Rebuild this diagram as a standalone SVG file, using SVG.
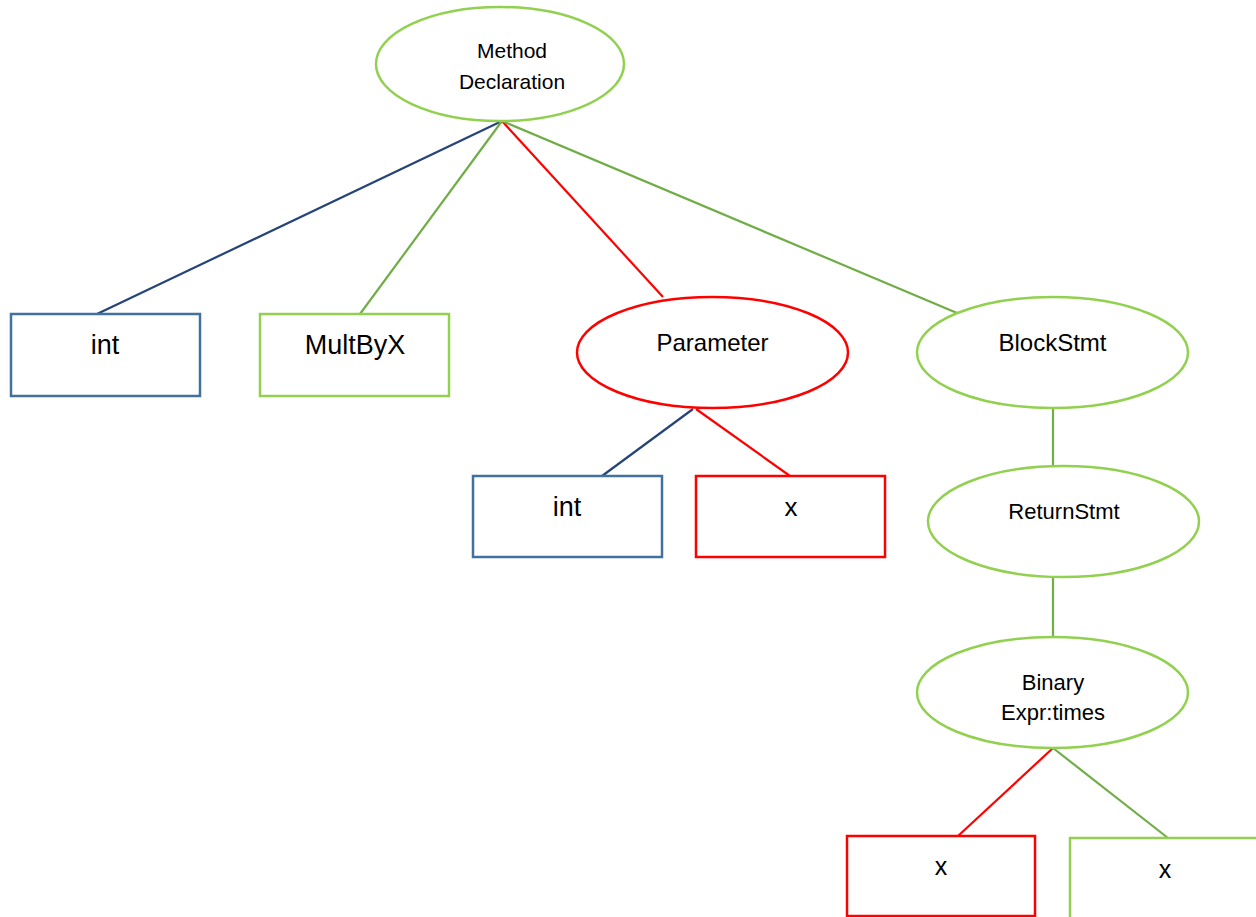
<svg xmlns="http://www.w3.org/2000/svg" width="1256" height="917" viewBox="0 0 1256 917">
<style>
  .shape { fill: #FFFFFF; stroke-width: 2.5; }
  .green { stroke: #92D050; }
  .red { stroke: #FF0000; }
  .blue { stroke: #41719C; }
  .conn { stroke-width: 2.2; fill: none; }
  .c-blue { stroke: #264478; }
  .c-green { stroke: #70AD47; }
  .c-red { stroke: #FF0000; }
  text { font-family: "Liberation Sans", Arial, sans-serif; fill: #000000; text-anchor: middle; }
</style>
<rect width="1256" height="917" fill="#FFFFFF"/>
<g id="connectors">
  <line class="conn c-blue" x1="502" y1="121" x2="97" y2="314"/>
  <line class="conn c-green" x1="502" y1="121" x2="360" y2="314"/>
  <line class="conn c-red" x1="502" y1="121" x2="663" y2="297"/>
  <line class="conn c-green" x1="502" y1="121" x2="957" y2="313"/>
  <line class="conn c-blue" x1="693" y1="409" x2="602" y2="476"/>
  <line class="conn c-red" x1="696" y1="409" x2="790" y2="476"/>
  <line class="conn c-green" x1="1053" y1="408" x2="1053" y2="466"/>
  <line class="conn c-green" x1="1053" y1="577" x2="1053" y2="637"/>
  <line class="conn c-red" x1="1053" y1="748" x2="958" y2="836"/>
  <line class="conn c-green" x1="1053" y1="748" x2="1168" y2="838"/>
</g>
<g id="method-declaration">
  <ellipse class="shape green" cx="500" cy="64" rx="124" ry="57"/>
  <text x="512" y="58" font-size="21">Method</text>
  <text x="512" y="89" font-size="21">Declaration</text>
</g>
<g id="int-type">
  <rect class="shape blue" x="11" y="314" width="189" height="82"/>
  <text x="105" y="354" font-size="27">int</text>
</g>
<g id="multbyx">
  <rect class="shape green" x="260" y="314" width="189" height="82"/>
  <text x="355" y="354" font-size="27">MultByX</text>
</g>
<g id="parameter">
  <ellipse class="shape red" cx="712.5" cy="352.5" rx="135.5" ry="55.5"/>
  <text x="712.5" y="351" font-size="24">Parameter</text>
</g>
<g id="blockstmt">
  <ellipse class="shape green" cx="1052.5" cy="352.5" rx="135.5" ry="55.5"/>
  <text x="1052.5" y="351" font-size="24">BlockStmt</text>
</g>
<g id="param-int">
  <rect class="shape blue" x="473" y="476" width="189" height="81"/>
  <text x="567" y="516" font-size="27">int</text>
</g>
<g id="param-x">
  <rect class="shape red" x="696" y="476" width="189" height="81"/>
  <text x="791" y="516" font-size="26">x</text>
</g>
<g id="returnstmt">
  <ellipse class="shape green" cx="1063.5" cy="521.5" rx="135.5" ry="55.5"/>
  <text x="1064" y="519" font-size="22">ReturnStmt</text>
</g>
<g id="binary-expr">
  <ellipse class="shape green" cx="1052.5" cy="692.5" rx="135.5" ry="55.5"/>
  <text x="1053" y="690" font-size="22">Binary</text>
  <text x="1053" y="720" font-size="22">Expr:times</text>
</g>
<g id="binary-x-left">
  <rect class="shape red" x="847" y="836" width="188" height="80"/>
  <text x="941" y="875" font-size="25">x</text>
</g>
<g id="binary-x-right">
  <rect class="shape green" x="1070" y="838" width="200" height="90"/>
  <text x="1165" y="878" font-size="25">x</text>
</g>
</svg>
